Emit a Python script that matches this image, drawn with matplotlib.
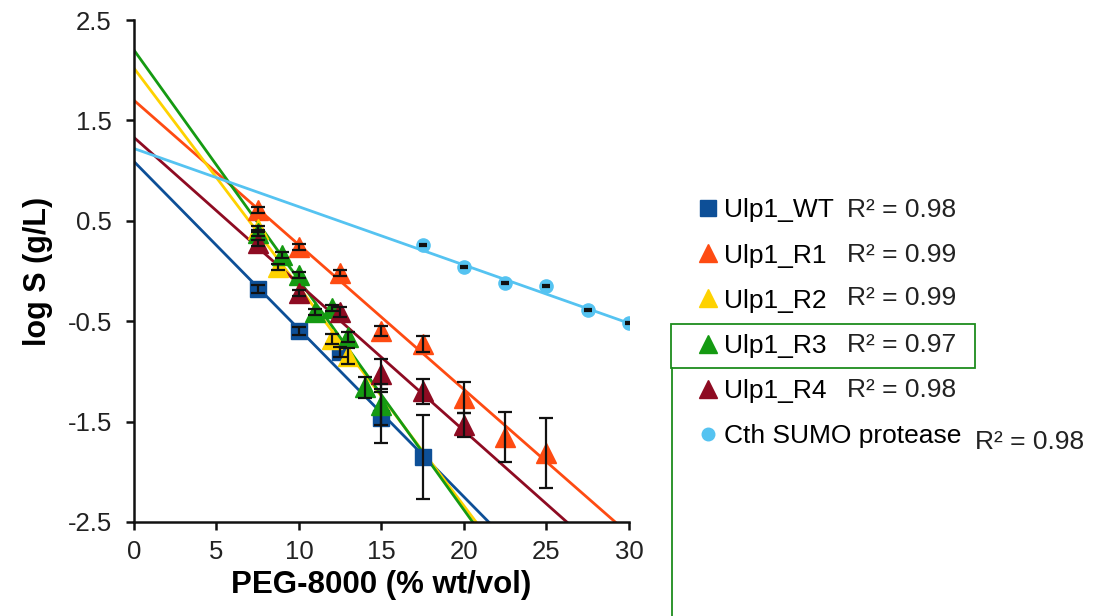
import numpy as np
import matplotlib
matplotlib.use('Agg')
import matplotlib.pyplot as plt
from matplotlib.lines import Line2D
from matplotlib.patches import Rectangle

plt.rcParams['font.family'] = ['Liberation Sans', 'DejaVu Sans']

# data
names = ['Ulp1_WT', 'Ulp1_R1', 'Ulp1_R2', 'Ulp1_R3', 'Ulp1_R4', 'Cth SUMO protease']
r2_labels = ['R² = 0.98', 'R² = 0.99', 'R² = 0.99', 'R² = 0.97', 'R² = 0.98', 'R² = 0.98']

wt_x = [7.5, 10, 12.5, 15, 17.5]
wt_y = [-0.18, -0.60, -0.81, -1.46, -1.85]
wt_e = [0.04, 0.04, 0.05, 0.25, 0.42]

r1_x = [7.5, 10, 12.5, 15, 17.5, 20, 22.5, 25]
r1_y = [0.61, 0.24, -0.02, -0.60, -0.73, -1.26, -1.65, -1.81]
r1_e = [0.03, 0.03, 0.03, 0.05, 0.08, 0.15, 0.25, 0.35]

r2_x = [7.5, 8.75, 12, 13]
r2_y = [0.42, 0.04, -0.68, -0.85]
r2_e = [0.03, 0.03, 0.05, 0.08]

r3_x = [7.5, 9, 10, 11, 12, 13, 14, 15]
r3_y = [0.38, 0.16, -0.04, -0.41, -0.37, -0.66, -1.16, -1.33]
r3_e = [0.03, 0.03, 0.03, 0.03, 0.03, 0.05, 0.10, 0.20]

r4_x = [7.5, 10, 12.5, 15, 17.5, 20]
r4_y = [0.28, -0.22, -0.41, -1.03, -1.20, -1.53]
r4_e = [0.03, 0.03, 0.05, 0.15, 0.12, 0.12]

cth_x = [17.5, 20, 22.5, 25, 27.5, 30]
cth_y = [0.26, 0.04, -0.12, -0.15, -0.39, -0.52]
cth_e = [0.01, 0.01, 0.01, 0.01, 0.01, 0.01]

# trendlines (slope, intercept)
fit_slope = [-0.167, -0.144, -0.218, -0.229, -0.146, -0.058]
fit_icpt = [1.09, 1.70, 2.02, 2.20, 1.33, 1.22]

colors = ['#0d4f97', '#fe4b12', '#fed200', '#159a12', '#8e0b22', '#55c3f1']
markers = ['s', '^', '^', '^', '^', 'o']
msizes = [12, 14, 14, 14, 14, 9.5]
caps = [5, 5, 5, 5, 5, 3]

xs = [wt_x, r1_x, r2_x, r3_x, r4_x, cth_x]
ys = [wt_y, r1_y, r2_y, r3_y, r4_y, cth_y]
es = [wt_e, r1_e, r2_e, r3_e, r4_e, cth_e]

fig = plt.figure(figsize=(11.12, 6.16), dpi=100)
ax = fig.add_axes([0.1205, 0.1526, 0.4451, 0.8149])

xl = np.array([0, 30])
for i in range(6):
    ax.plot(xl, fit_slope[i] * xl + fit_icpt[i], color=colors[i], lw=2, zorder=2)
for i in range(6):
    ax.plot(xs[i], ys[i], linestyle='none', marker=markers[i], ms=msizes[i],
            color=colors[i], zorder=3)
    ax.errorbar(xs[i], ys[i], yerr=es[i], fmt='none', ecolor='#111111',
                elinewidth=1.6, capsize=caps[i], capthick=1.6, zorder=4)

ax.set_xlim(0, 30)
ax.set_ylim(-2.5, 2.5)
ax.set_xticks([0, 5, 10, 15, 20, 25, 30])
ax.set_yticks([2.5, 1.5, 0.5, -0.5, -1.5, -2.5])
ax.set_yticklabels(['2.5', '1.5', '0.5', '-0.5', '-1.5', '-2.5'])
ax.spines['top'].set_visible(False)
ax.spines['right'].set_visible(False)
for s in ['left', 'bottom']:
    ax.spines[s].set_linewidth(1.8)
    ax.spines[s].set_color('#111111')
ax.tick_params(labelsize=18.5, length=6, width=1.8, pad=7, colors='#111111',
               labelcolor='#222222')
ax.tick_params(axis='y', pad=10)
ax.set_xlabel('PEG-8000 (% wt/vol)', fontsize=22.5, fontweight='bold', labelpad=4)
ax.set_ylabel('log S (g/L)', fontsize=22, fontweight='bold')
ax.yaxis.set_label_coords(-0.164, 0.5)

handles = [Line2D([], [], linestyle='none', marker=markers[i], ms=msizes[i] * 0.95,
                  color=colors[i]) for i in range(6)]
fig.legend(handles, names, loc='upper left', bbox_to_anchor=(0.620, 0.695),
           frameon=False, fontsize=19, handlelength=0.6, handletextpad=0.3,
           labelspacing=0.8, borderaxespad=0)

r2_y_px = [210, 255, 298, 345, 390, 442]
r2_x_px = [847, 847, 847, 847, 847, 975]
for i in range(6):
    fig.text(r2_x_px[i] / 1112, 1 - r2_y_px[i] / 616, r2_labels[i], fontsize=19,
             va='center', ha='left', color='#222222')

fig.add_artist(Rectangle((671 / 1112, 1 - 368 / 616), 304 / 1112, 44 / 616,
                         transform=fig.transFigure, fill=False,
                         edgecolor='#1e8c1e', lw=1.3))
fig.add_artist(Line2D([672 / 1112, 672 / 1112], [1 - 368 / 616, 0],
                      transform=fig.transFigure, color='#1e8c1e', lw=1.3))

fig.savefig('out.png', dpi=100)
